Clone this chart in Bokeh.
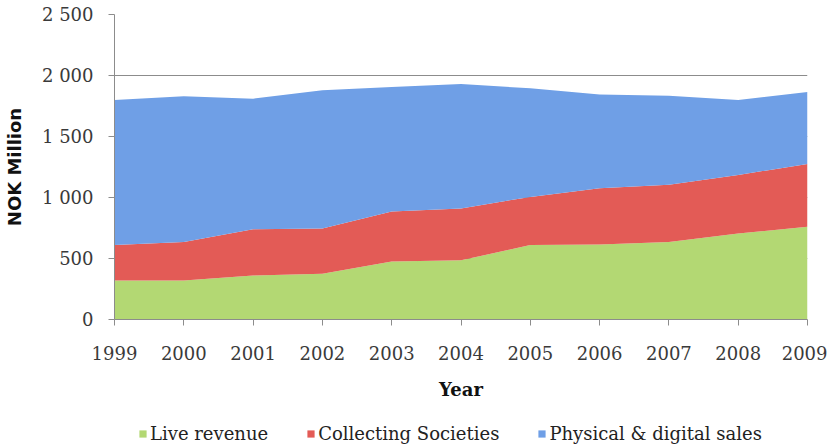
from bokeh.plotting import figure
from bokeh.layouts import column
from bokeh.models import ColumnDataSource, Legend, LegendItem, FixedTicker, Range1d
from bokeh.embed import file_html
from bokeh.resources import INLINE

years = [1999, 2000, 2001, 2002, 2003, 2004, 2005, 2006, 2007, 2008, 2009]
live_revenue = [320, 320, 360, 375, 475, 485, 610, 615, 635, 705, 760]
collecting_societies = [290, 315, 380, 370, 410, 425, 395, 460, 470, 480, 515]
physical_digital = [1190, 1195, 1070, 1135, 1020, 1020, 890, 770, 730, 615, 590]
series_names = ["Live revenue", "Collecting Societies", "Physical & digital sales"]
y_ticks = [0, 500, 1000, 1500, 2000, 2500]
y_tick_labels = ["0", "500", "1 000", "1 500", "2 000", "2 500"]

colors = ["#b3d873", "#e35b56", "#6f9fe6"]
serif = "DejaVu Serif"
stack_cols = ["live", "coll", "phys"]

src = ColumnDataSource(dict(year=years, live=live_revenue, coll=collecting_societies,
                            phys=physical_digital))

# main chart
p = figure(frame_width=693, frame_height=305, output_backend="svg", toolbar_location=None,
           x_range=Range1d(1999, 2009), y_range=Range1d(0, 2500),
           min_border_left=114, min_border_right=20, min_border_top=14, min_border_bottom=90)
p.outline_line_color = None
p.background_fill_color = "white"

p.varea_stack(stack_cols, x="year", source=src, color=colors)

p.xgrid.grid_line_color = None
p.ygrid.grid_line_color = "#8c8c8c"
p.ygrid.grid_line_width = 1
p.ygrid.ticker = FixedTicker(ticks=y_ticks)

p.yaxis.ticker = FixedTicker(ticks=y_ticks)
p.yaxis.major_label_overrides = {t: l for t, l in zip(y_ticks, y_tick_labels)}
p.xaxis.ticker = FixedTicker(ticks=years)
p.xaxis.major_label_overrides = {y: str(y) for y in years}

for ax in (p.xaxis[0], p.yaxis[0]):
    ax.axis_line_color = "#8c8c8c"
    ax.major_tick_line_color = "#8c8c8c"
    ax.major_tick_in = 0
    ax.major_tick_out = 6
    ax.minor_tick_line_color = None
    ax.major_label_text_font = serif
    ax.major_label_text_font_size = "18px"
    ax.major_label_text_color = "#3a3a3a"

p.yaxis.major_label_standoff = 15
p.xaxis.major_label_standoff = 20
p.yaxis.axis_label = "NOK Million"
p.yaxis.axis_label_text_font = "DejaVu Sans"
p.yaxis.axis_label_text_font_style = "bold"
p.yaxis.axis_label_text_font_size = "18px"
p.yaxis.axis_label_text_color = "#111111"
p.yaxis.axis_label_standoff = 14

p.xaxis.axis_label = "Year"
p.xaxis.axis_label_text_font = serif
p.xaxis.axis_label_text_font_style = "bold"
p.xaxis.axis_label_text_font_size = "18px"
p.xaxis.axis_label_text_color = "#111111"
p.xaxis.axis_label_standoff = 16

# legend strip below the chart (same series, drawn out of view, only the legend shows)
lg = figure(width=827, height=35, output_backend="svg", toolbar_location=None,
            x_range=Range1d(1999, 2009), y_range=Range1d(-20, -10),
            min_border=0)
lg.axis.visible = False
lg.grid.visible = False
lg.outline_line_color = None
lr = lg.varea_stack(stack_cols, x="year", source=src, color=colors)

legend = Legend(items=[LegendItem(label=n, renderers=[rr]) for n, rr in zip(series_names, lr)],
                orientation="horizontal", location=(24, 0),
                label_text_font=serif, label_text_font_size="18px",
                label_text_color="#222222",
                glyph_width=9, glyph_height=9, spacing=38, label_standoff=3,
                border_line_color=None, background_fill_alpha=0,
                padding=0, margin=0)
lg.add_layout(legend)

open("out.html", "w").write(file_html(column(p, lg, spacing=0), INLINE))
